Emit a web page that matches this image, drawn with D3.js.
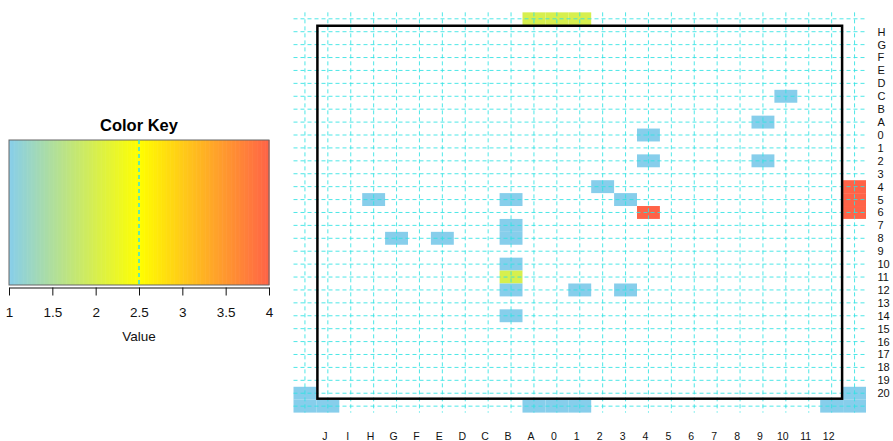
<!DOCTYPE html>
<html>
<head>
<meta charset="utf-8">
<script src="https://cdn.jsdelivr.net/npm/d3@7"></script>
<style>
  html, body { margin: 0; padding: 0; background: #fff; }
  svg { display: block; font-family: "Liberation Sans", Arial, Helvetica, sans-serif; }
</style>
</head>
<body>
<svg id="chart" width="893" height="441"></svg>
<script>
// Column labels (left to right) and row labels (top to bottom) of the labelled block.
const colLabels = ["J","I","H","G","F","E","D","C","B","A","0","1","2","3","4","5","6","7","8","9","10","11","12"];
const rowLabels = ["H","G","F","E","D","C","B","A","0","1","2","3","4","5","6","7","8","9","10","11","12","13","14","15","16","17","18","19","20"];

// The image grid has one unlabelled margin column / row on each side of the labelled block,
// so grid indices run 0..colLabels.length+1 and 0..rowLabels.length+1.
// Filled tiles: grid column index, grid row index, value.
const tileCol = [10, 11, 12, 21, 20, 15, 15, 20, 13, 24,  3,  9, 14, 24, 15, 24,  9,  4,  6,  9,  9,  9,  9, 12, 14,  9,  0, 24,  0,  1, 10, 11, 12, 23, 24];
const tileRow = [ 0,  0,  0,  6,  8,  9, 11, 11, 13, 13, 14, 14, 14, 14, 15, 15, 16, 17, 17, 17, 19, 20, 21, 21, 21, 23, 29, 29, 30, 30, 30, 30, 30, 30, 30];
const tileVal = [ 2,  2,  2,  1,  1,  1,  1,  1,  1,  4,  1,  1,  1,  4,  4,  4,  1,  1,  1,  1,  1,  2,  1,  1,  1,  1,  1,  1,  1,  1,  1,  1,  1,  1,  1];

// Colour key
const keyBreaks = [1, 2.5, 4];
const keyColors = ["skyblue", "yellow", "tomato"];
const keyTicks = [1, 1.5, 2, 2.5, 3, 3.5, 4];
const keyMid = 2.5;

const svg = d3.select("#chart");
const color = d3.scaleLinear().domain(keyBreaks).range(keyColors).interpolate(d3.interpolateRgb);

// ---------- heat map ----------
const nCols = colLabels.length + 2;
const nRows = rowLabels.length + 2;
const x = d3.scaleBand().domain(d3.range(nCols)).range([293.5, 866]).padding(0);
const y = d3.scaleBand().domain(d3.range(nRows)).range([12.35, 412.6]).padding(0);

const tiles = tileVal.map((v, i) => ({ c: tileCol[i], r: tileRow[i], v }));

const heat = svg.append("g");
heat.selectAll("rect.tile")
  .data(tiles)
  .enter().append("rect")
  .attr("class", "tile")
  .attr("x", d => x(d.c))
  .attr("y", d => y(d.r))
  .attr("width", x.bandwidth())
  .attr("height", y.bandwidth())
  .attr("fill", d => color(d.v));

// dashed guide lines through every row and column centre
const guide = svg.append("g")
  .attr("stroke", "#2fe3e3")
  .attr("stroke-opacity", 0.85)
  .attr("stroke-width", 1)
  .attr("stroke-dasharray", "4,3")
  .attr("fill", "none");
guide.selectAll("line.h")
  .data(d3.range(nRows))
  .enter().append("line")
  .attr("x1", x.range()[0]).attr("x2", x.range()[1])
  .attr("y1", r => y(r) + y.bandwidth() / 2)
  .attr("y2", r => y(r) + y.bandwidth() / 2);
guide.selectAll("line.v")
  .data(d3.range(nCols))
  .enter().append("line")
  .attr("y1", y.range()[0]).attr("y2", y.range()[1])
  .attr("x1", c => x(c) + x.bandwidth() / 2)
  .attr("x2", c => x(c) + x.bandwidth() / 2);

// frame round the labelled block
svg.append("rect")
  .attr("x", x(1) + 1)
  .attr("y", y(1) + 0.5)
  .attr("width", x(nCols - 1) - x(1) - 2)
  .attr("height", y(nRows - 1) - y(1) - 1.5)
  .attr("fill", "none")
  .attr("stroke", "#000")
  .attr("stroke-width", 2.5);

// column labels
svg.append("g").selectAll("text")
  .data(colLabels)
  .enter().append("text")
  .attr("x", (d, i) => x(i + 1) + x.bandwidth() / 2 - 3)
  .attr("y", 440)
  .attr("text-anchor", "middle")
  .attr("font-size", 10.5)
  .attr("fill", "#111")
  .text(d => d);

// row labels
svg.append("g").selectAll("text")
  .data(rowLabels)
  .enter().append("text")
  .attr("x", 877.5)
  .attr("y", (d, i) => y(i + 1) + y.bandwidth() / 2)
  .attr("dy", "0.36em")
  .attr("font-size", 11)
  .attr("fill", "#111")
  .text(d => d);

// ---------- colour key ----------
const kx = d3.scaleLinear().domain([keyBreaks[0], keyBreaks[keyBreaks.length - 1]]).range([9, 269]);
const keyTop = 140, keyBottom = 285;
const key = svg.append("g");
const steps = d3.range(0, 200).map(i => kx.domain()[0] + (kx.domain()[1] - kx.domain()[0]) * i / 200);
const stepW = (kx.domain()[1] - kx.domain()[0]) / 200;
key.selectAll("rect.step")
  .data(steps)
  .enter().append("rect")
  .attr("class", "step")
  .attr("x", d => kx(d))
  .attr("y", keyTop)
  .attr("width", kx(d3.min(steps) + stepW) - kx(d3.min(steps)) + 0.6)
  .attr("height", keyBottom - keyTop)
  .attr("fill", d => color(d + stepW / 2));
key.append("rect")
  .attr("x", kx.range()[0]).attr("y", keyTop)
  .attr("width", kx.range()[1] - kx.range()[0]).attr("height", keyBottom - keyTop)
  .attr("fill", "none").attr("stroke", "#666").attr("stroke-width", 1);
key.append("line")
  .attr("x1", kx(keyMid)).attr("x2", kx(keyMid))
  .attr("y1", keyTop).attr("y2", keyBottom)
  .attr("stroke", "#2fe3e3").attr("stroke-width", 1.5).attr("stroke-dasharray", "4,3");

key.append("text")
  .attr("x", kx(2.5)).attr("y", 131)
  .attr("text-anchor", "middle")
  .attr("font-size", 16.5).attr("font-weight", "bold")
  .text("Color Key");

const axis = d3.axisBottom(kx).tickValues(keyTicks).tickFormat(d3.format("~g"))
  .tickSize(8).tickSizeOuter(0).tickPadding(12);
const axG = key.append("g").attr("transform", "translate(0,287.5)").call(axis);
axG.selectAll("text").attr("font-size", 13.5).attr("fill", "#111").attr("font-family", null);
axG.attr("font-family", null);
axG.selectAll("path, line").attr("stroke", "#111");

key.append("text")
  .attr("x", kx(2.5)).attr("y", 341)
  .attr("text-anchor", "middle")
  .attr("font-size", 13.5)
  .attr("fill", "#111")
  .text("Value");
</script>
</body>
</html>
